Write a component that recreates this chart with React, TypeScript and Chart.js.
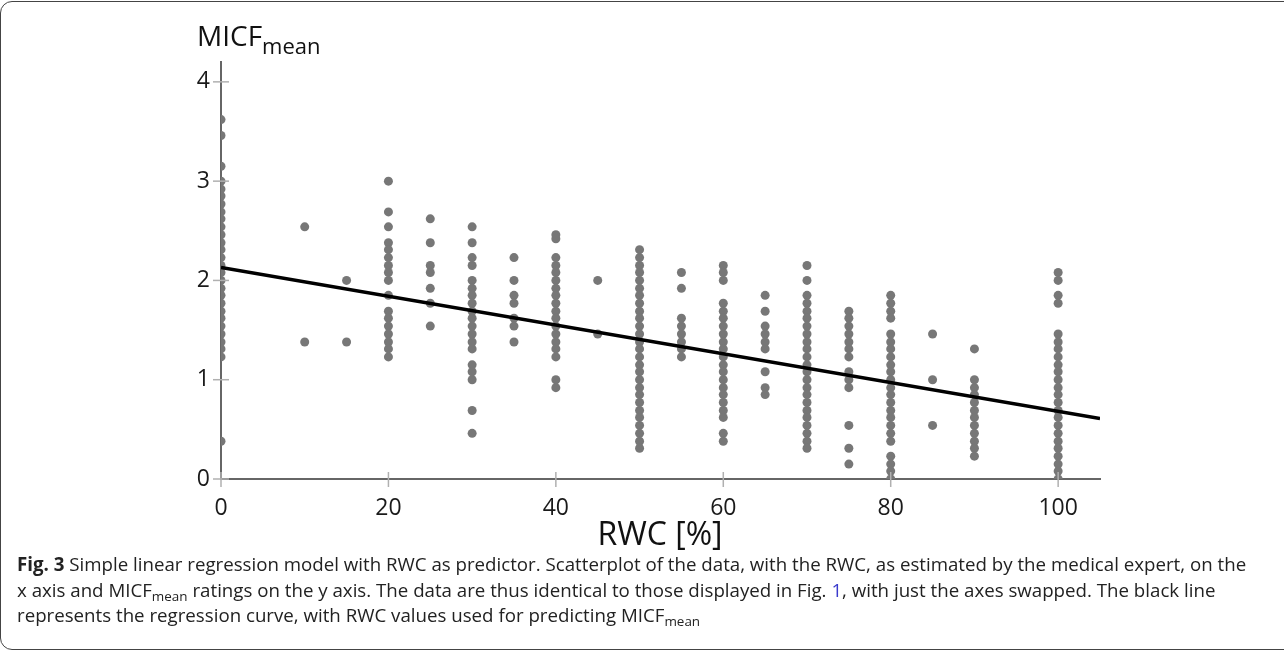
import React, { useEffect, useRef } from "react";
import { Chart, registerables } from "chart.js";

Chart.register(...registerables);

// RWC groups (x values, %)
const RWC_GROUPS = [0, 10, 15, 20, 25, 30, 35, 40, 45, 50, 55, 60, 65, 70, 75, 80, 85, 90, 100];

// MICF_mean ratings observed at each RWC group
const MICF_RWC0 = [3.62, 3.46, 3.15, 3.0, 2.92, 2.85, 2.77, 2.69, 2.62, 2.54, 2.46, 2.38, 2.31, 2.23, 2.15, 2.08, 2.0, 1.92, 1.85, 1.77, 1.69, 1.62, 1.54, 1.46, 1.38, 1.31, 1.23, 0.38];
const MICF_RWC10 = [2.54, 1.38];
const MICF_RWC15 = [2.0, 1.38];
const MICF_RWC20 = [3.0, 2.69, 2.54, 2.38, 2.31, 2.23, 2.15, 2.08, 2.0, 1.85, 1.69, 1.62, 1.54, 1.46, 1.38, 1.31, 1.23];
const MICF_RWC25 = [2.62, 2.38, 2.15, 2.08, 1.92, 1.77, 1.54];
const MICF_RWC30 = [2.54, 2.38, 2.23, 2.15, 2.0, 1.92, 1.85, 1.77, 1.69, 1.62, 1.54, 1.46, 1.38, 1.31, 1.15, 1.08, 1.0, 0.69, 0.46];
const MICF_RWC35 = [2.23, 2.0, 1.85, 1.77, 1.62, 1.54, 1.38];
const MICF_RWC40 = [2.46, 2.42, 2.23, 2.15, 2.08, 2.0, 1.92, 1.85, 1.77, 1.69, 1.62, 1.54, 1.46, 1.38, 1.31, 1.23, 1.0, 0.92];
const MICF_RWC45 = [2.0, 1.46];
const MICF_RWC50 = [2.31, 2.23, 2.15, 2.08, 2.0, 1.92, 1.85, 1.77, 1.69, 1.62, 1.54, 1.46, 1.38, 1.31, 1.23, 1.15, 1.08, 1.0, 0.92, 0.85, 0.77, 0.69, 0.62, 0.54, 0.46, 0.38, 0.31];
const MICF_RWC55 = [2.08, 1.92, 1.62, 1.54, 1.46, 1.38, 1.31, 1.23];
const MICF_RWC60 = [2.15, 2.08, 2.0, 1.77, 1.69, 1.62, 1.54, 1.46, 1.38, 1.31, 1.23, 1.15, 1.08, 1.0, 0.92, 0.85, 0.77, 0.69, 0.62, 0.46, 0.38];
const MICF_RWC65 = [1.85, 1.69, 1.54, 1.46, 1.38, 1.31, 1.08, 0.92, 0.85];
const MICF_RWC70 = [2.15, 2.0, 1.85, 1.77, 1.69, 1.62, 1.54, 1.46, 1.38, 1.31, 1.23, 1.15, 1.08, 1.0, 0.92, 0.85, 0.77, 0.69, 0.62, 0.54, 0.46, 0.38, 0.31];
const MICF_RWC75 = [1.69, 1.62, 1.54, 1.46, 1.38, 1.31, 1.23, 1.08, 1.0, 0.92, 0.54, 0.31, 0.15];
const MICF_RWC80 = [1.85, 1.77, 1.69, 1.62, 1.46, 1.38, 1.31, 1.23, 1.15, 1.08, 1.0, 0.92, 0.85, 0.77, 0.69, 0.62, 0.54, 0.46, 0.38, 0.23, 0.15, 0.08, 0.0];
const MICF_RWC85 = [1.46, 1.0, 0.54];
const MICF_RWC90 = [1.31, 1.0, 0.92, 0.85, 0.77, 0.69, 0.62, 0.54, 0.46, 0.38, 0.31, 0.23];
const MICF_RWC100 = [2.08, 2.0, 1.85, 1.77, 1.46, 1.38, 1.31, 1.23, 1.15, 1.08, 1.0, 0.92, 0.85, 0.77, 0.69, 0.62, 0.54, 0.46, 0.38, 0.31, 0.23, 0.15, 0.08, 0.0];

const MICF_GROUPS = [
  MICF_RWC0, MICF_RWC10, MICF_RWC15, MICF_RWC20, MICF_RWC25, MICF_RWC30, MICF_RWC35,
  MICF_RWC40, MICF_RWC45, MICF_RWC50, MICF_RWC55, MICF_RWC60, MICF_RWC65, MICF_RWC70,
  MICF_RWC75, MICF_RWC80, MICF_RWC85, MICF_RWC90, MICF_RWC100,
];

// Regression line endpoints
const REG_X = [0, 105];
const REG_Y = [2.13, 0.61];

// Axis ranges / ticks
const X_TICKS = [0, 20, 40, 60, 80, 100];
const Y_TICKS = [0, 1, 2, 3, 4];
const X_MAX = 105;
const Y_MAX = 4.2;

const FONT = "'Open Sans', 'DejaVu Sans', sans-serif";

const crossTicks = {
  id: "crossTicks",
  afterDraw(chart: any) {
    const { ctx, scales } = chart;
    const xs = scales.x;
    const ys = scales.y;
    ctx.save();
    ctx.strokeStyle = "#b0b0b0";
    ctx.lineWidth = 1.5;
    const axisY = ys.getPixelForValue(0);
    const axisX = xs.getPixelForValue(0);
    X_TICKS.forEach((v) => {
      const px = xs.getPixelForValue(v);
      ctx.beginPath();
      ctx.moveTo(px, axisY - 7);
      ctx.lineTo(px, axisY + 8);
      ctx.stroke();
    });
    Y_TICKS.forEach((v) => {
      const py = ys.getPixelForValue(v);
      ctx.beginPath();
      ctx.moveTo(axisX - 8, py);
      ctx.lineTo(axisX + 8, py);
      ctx.stroke();
    });
    ctx.restore();
  },
};

export default function App() {
  const canvasRef = useRef<HTMLCanvasElement | null>(null);

  useEffect(() => {
    document.body.style.margin = "0";
    document.body.style.overflow = "hidden";
    document.documentElement.style.overflow = "hidden";
    const points = RWC_GROUPS.flatMap((x, i) => MICF_GROUPS[i].map((y) => ({ x, y })));
    const line = REG_X.map((x, i) => ({ x, y: REG_Y[i] }));
    const chart = new Chart(canvasRef.current as HTMLCanvasElement, {
      type: "scatter",
      data: {
        datasets: [
          {
            type: "line",
            data: line,
            borderColor: "#000",
            borderWidth: 3.5,
            pointRadius: 0,
            fill: false,
          } as any,
          {
            data: points,
            backgroundColor: "#777777",
            borderWidth: 0,
            pointRadius: 4.5,
            clip: 0,
          } as any,
        ],
      },
      options: {
        animation: false,
        responsive: false,
        events: [],
        layout: { autoPadding: false, padding: { left: 0, top: 62, right: 184, bottom: 134 } } as any,
        plugins: { legend: { display: false }, tooltip: { enabled: false } },
        scales: {
          x: {
            type: "linear",
            min: 0,
            max: X_MAX,
            z: 1,
            afterFit: (s: any) => { s.height = 40; },
            afterBuildTicks: (s: any) => { s.ticks = X_TICKS.map((v) => ({ value: v })); },
            ticks: { font: { family: FONT, size: 23 }, color: "#1a1a1a", padding: 16, maxRotation: 0 },
            grid: { drawOnChartArea: false, drawTicks: false },
            border: { color: "#666", width: 2 },
          },
          y: {
            type: "linear",
            min: 0,
            max: Y_MAX,
            z: 1,
            afterFit: (s: any) => { s.width = 221; },
            afterBuildTicks: (s: any) => { s.ticks = Y_TICKS.map((v) => ({ value: v })); },
            ticks: { font: { family: FONT, size: 23 }, color: "#1a1a1a", padding: 11 },
            grid: { drawOnChartArea: false, drawTicks: false },
            border: { color: "#666", width: 2 },
          },
        },
      },
      plugins: [crossTicks],
    } as any);
    return () => chart.destroy();
  }, []);

  const lineStyle: React.CSSProperties = { whiteSpace: "nowrap", height: 25.5 };
  const sub: React.CSSProperties = { fontSize: "0.72em", verticalAlign: "-0.3em", lineHeight: 0 };

  return (
    <div style={{ position: "relative", width: 1284, height: 653, overflow: "hidden", background: "#fff", fontFamily: FONT }}>
      <div
        style={{
          position: "absolute", left: 0, top: 1, width: 1330, height: 649,
          border: "1.5px solid #444", borderRadius: 12, boxSizing: "border-box",
        }}
      />
      <canvas ref={canvasRef} width={1284} height={653} style={{ position: "absolute", left: 0, top: 0 }} />
      <div style={{ position: "absolute", left: 197, top: 21, fontSize: 28, color: "#111", lineHeight: 1, whiteSpace: "nowrap" }}>
        MICF<span style={{ fontSize: 22, position: "relative", top: 8 }}>mean</span>
      </div>
      <div style={{ position: "absolute", left: 360, width: 600, top: 514, fontSize: 32, color: "#111", textAlign: "center", lineHeight: 1.2 }}>
        RWC [%]
      </div>
      <div style={{ position: "absolute", left: 17, top: 551, fontSize: 18.7, color: "#222", lineHeight: "25.5px" }}>
        <div style={lineStyle}>
          <b>Fig. 3</b> Simple linear regression model with RWC as predictor. Scatterplot of the data, with the RWC, as estimated by the medical expert, on the
        </div>
        <div style={lineStyle}>
          x axis and MICF<span style={sub}>mean</span> ratings on the y axis. The data are thus identical to those displayed in Fig. <span style={{ color: "#3a3acc" }}>1</span>, with just the axes swapped. The black line
        </div>
        <div style={lineStyle}>
          represents the regression curve, with RWC values used for predicting MICF<span style={sub}>mean</span>
        </div>
      </div>
    </div>
  );
}
